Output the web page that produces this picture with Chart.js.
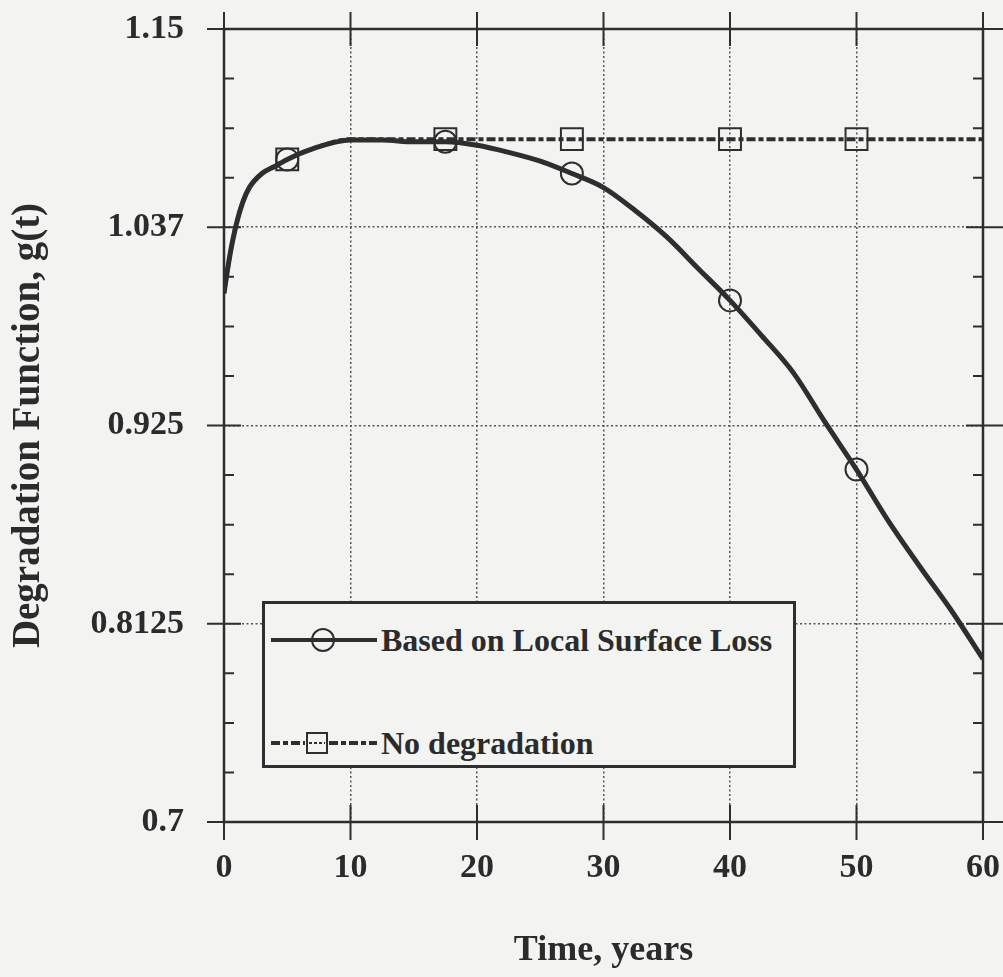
<!DOCTYPE html>
<html><head><meta charset="utf-8">
<script src="https://cdn.jsdelivr.net/npm/chart.js@4.4.1/dist/chart.umd.min.js"></script>
<style>
html,body{margin:0;padding:0;background:#f3f3f1;}
#wrap{position:relative;width:1003px;height:977px;}
canvas{display:block;}
#legend{position:absolute;left:262px;top:601px;width:534px;height:167px;box-sizing:border-box;border:3px solid #2e2e2e;background:#f3f3f1;font-family:"Liberation Serif",serif;font-weight:bold;font-size:32px;color:#2b2b2b;}
.row{position:absolute;left:6px;height:40px;display:flex;align-items:center;white-space:nowrap;}
.row svg{margin-right:4px;flex:none}
</style></head>
<body><div id="wrap"><canvas id="c" width="1003" height="977"></canvas>
<div id="legend">
<div class="row" id="row0" style="top:16px"><svg width="106" height="30"><line x1="0" y1="15" x2="106" y2="15" stroke="#2e2e2e" stroke-width="4"/><circle cx="52" cy="15" r="11" fill="none" stroke="#2e2e2e" stroke-width="2"/></svg><span></span></div>
<div class="row" id="row1" style="top:119px"><svg width="106" height="30"><line x1="0" y1="15" x2="34" y2="15" stroke="#2e2e2e" stroke-width="4" stroke-dasharray="9,3,5,3"/><line x1="58" y1="15" x2="106" y2="15" stroke="#2e2e2e" stroke-width="4" stroke-dasharray="9,3,5,3"/><rect x="36" y="5" width="20" height="20" fill="none" stroke="#2e2e2e" stroke-width="2"/><line x1="38" y1="15" x2="54" y2="15" stroke="#2e2e2e" stroke-width="2" stroke-dasharray="3,2"/></svg><span></span></div>
</div></div>
<script>
// ---- data ----
const seriesNames = ['Based on Local Surface Loss', 'No degradation'];
const timeLocal = [0,0.25,0.5,1,1.5,2,3,4,5,7,10,12.5,15,17.5,20,22.5,25,27.5,30,32.5,35,37.5,40,42.5,45,47.5,50,52.5,55,57.5,60];
const gLocal    = [1.000,1.012,1.023,1.040,1.052,1.060,1.068,1.072,1.076,1.082,1.087,1.087,1.086,1.086,1.084,1.080,1.075,1.068,1.060,1.047,1.032,1.014,0.996,0.976,0.955,0.927,0.900,0.871,0.845,0.820,0.7925];
const timeNoDeg = [0,0.25,0.5,1,1.5,2,3,4,5,7,10,17.5,27.5,40,50,60];
const gNoDeg    = [1.000,1.012,1.023,1.040,1.052,1.060,1.068,1.072,1.076,1.082,1.0875,1.0875,1.0875,1.0875,1.0875,1.0875];
const circleT = [5,17.5,27.5,40,50];
const circleG = [1.076,1.086,1.068,0.996,0.900];
const squareT = [5,17.5,27.5,40,50];
const squareG = [1.076,1.0875,1.0875,1.0875,1.0875];
const xTicks = [0,10,20,30,40,50,60];
const yTicks = [0.7,0.8125,0.925,1.0375,1.15];
const yTickLabels = ['0.7','0.8125','0.925','1.037','1.15'];
const xTitle = 'Time, years';
const yTitle = 'Degradation Function, g(t)';

const INK = '#2e2e2e';
const FONT = '"Liberation Serif", "Times New Roman", serif';
const pts = (xs, ys) => xs.map((v, i) => ({x: v, y: ys[i]}));

document.querySelector('#row0 span').textContent = seriesNames[0];
document.querySelector('#row1 span').textContent = seriesNames[1];

const frameTicks = {
  id: 'frameTicks',
  afterDatasetsDraw(chart) {
    const {ctx, chartArea: a, scales: {x, y}} = chart;
    ctx.save();
    ctx.strokeStyle = INK;
    ctx.setLineDash([]);
    ctx.lineWidth = 2.5;
    ctx.strokeRect(a.left, a.top, a.right - a.left, a.bottom - a.top);
    ctx.lineWidth = 2;
    ctx.beginPath();
    xTicks.forEach(v => {
      const px = x.getPixelForValue(v);
      ctx.moveTo(px, a.bottom - 17); ctx.lineTo(px, a.bottom + 18);
      ctx.moveTo(px, a.top - 17); ctx.lineTo(px, a.top + 17);
    });
    yTicks.forEach(v => {
      const py = y.getPixelForValue(v);
      ctx.moveTo(a.left - 17, py); ctx.lineTo(a.left + 17, py);
      ctx.moveTo(a.right - 17, py); ctx.lineTo(a.right + 20, py);
    });
    for (let i = 0; i < yTicks.length - 1; i++) {
      for (let k = 1; k < 4; k++) {
        const v = yTicks[i] + (yTicks[i + 1] - yTicks[i]) * k / 4;
        const py = y.getPixelForValue(v);
        ctx.moveTo(a.left, py); ctx.lineTo(a.left + 10, py);
        ctx.moveTo(a.right - 10, py); ctx.lineTo(a.right, py);
      }
    }
    ctx.stroke();
    ctx.restore();
  }
};

new Chart(document.getElementById('c'), {
  type: 'scatter',
  data: {
    datasets: [
      {label: seriesNames[1], data: pts(timeNoDeg, gNoDeg), showLine: true, borderColor: INK, borderWidth: 4,
       borderDash: [9,3,5,3], pointRadius: 0, cubicInterpolationMode: 'monotone', order: 2},
      {label: seriesNames[0], data: pts(timeLocal, gLocal), showLine: true, borderColor: INK, borderWidth: 5,
       pointRadius: 0, cubicInterpolationMode: 'monotone', order: 1},
      {label: 'circles', data: pts(circleT, circleG), showLine: false, pointStyle: 'circle', pointRadius: 11,
       pointBorderWidth: 2, pointBorderColor: INK, pointBackgroundColor: 'rgba(0,0,0,0)'},
      {label: 'squares', data: pts(squareT, squareG), showLine: false, pointStyle: 'rect', pointRadius: 15.5,
       pointBorderWidth: 2, pointBorderColor: INK, pointBackgroundColor: 'rgba(0,0,0,0)'}
    ]
  },
  options: {
    responsive: false,
    animation: false,
    devicePixelRatio: 1,
    layout: {padding: {top: 29, right: 20, left: 0, bottom: 0}},
    plugins: {legend: {display: false}, tooltip: {enabled: false}},
    scales: {
      x: {
        type: 'linear', min: 0, max: 60,
        afterBuildTicks: ax => { ax.ticks = xTicks.map(v => ({value: v})); },
        afterFit: s => { s.height = 155; },
        grid: {color: '#555', lineWidth: 1.5, drawTicks: true, tickLength: 26, tickColor: 'rgba(0,0,0,0)'},
        border: {display: false, dash: [2, 2.5]},
        ticks: {color: '#2b2b2b', padding: 0, font: {family: FONT, size: 34, weight: 'bold'}, maxRotation: 0},
        title: {display: true, text: xTitle, color: '#2b2b2b', padding: {top: 0, bottom: 5},
                font: {family: FONT, size: 36, weight: 'bold'}}
      },
      y: {
        type: 'linear', min: 0.7, max: 1.15,
        afterBuildTicks: ax => { ax.ticks = yTicks.map(v => ({value: v})); },
        afterFit: s => { s.width = 224; },
        grid: {color: '#555', lineWidth: 1.5, drawTicks: true, tickLength: 40, tickColor: 'rgba(0,0,0,0)'},
        border: {display: false, dash: [2, 2.5]},
        ticks: {color: '#2b2b2b', padding: 0, font: {family: FONT, size: 34, weight: 'bold'},
                callback: (v, i) => yTickLabels[i]},
        title: {display: true, text: yTitle, color: '#2b2b2b', padding: {top: 6, bottom: 0},
                font: {family: FONT, size: 39, weight: 'bold'}}
      }
    }
  },
  plugins: [frameTicks]
});
</script>
</body></html>
